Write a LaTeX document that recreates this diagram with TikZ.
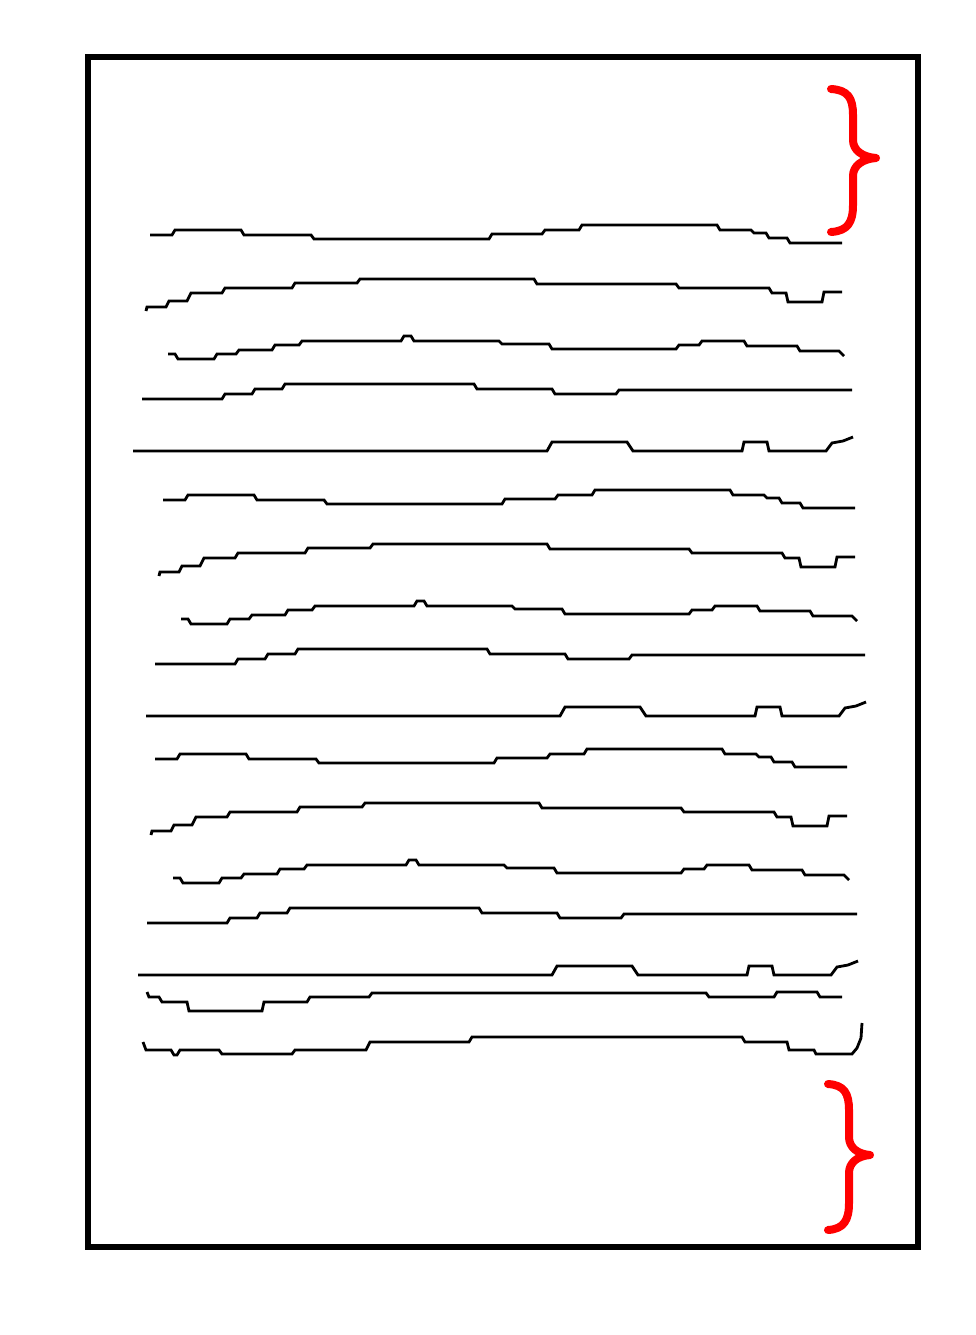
\documentclass[tikz,border=0pt]{standalone}
\begin{document}
\begin{tikzpicture}[x=1pt,y=-1pt,
  textline/.style={draw=black,line width=2.8pt,line join=miter},
  pageframe/.style={draw=black,line width=6pt},
  redbrace/.style={draw=red,line width=8pt,line cap=round,line join=round}]
\useasboundingbox (0,0) rectangle (975,1335);
\fill[white] (0,0) rectangle (975,1335);
\draw[pageframe] (88,57) rectangle (918,1247);
% base line patterns
\newcommand{\lineA}{(150,235)--(172,235)--(175,230)--(241,230)--(244,235)--(311,235)--(314,239)--(489,239)--(492,234)--(542,234)--(545,230)--(579,230)--(582,225)--(717,225)--(720,230)--(751,230)--(754,233)--(766,233)--(769,238)--(787,238)--(790,243)--(842,243)}
\newcommand{\lineB}{(146,311)--(147,307)--(166,307)--(169,301)--(187,301)--(191,293)--(222,293)--(225,288)--(292,288)--(295,283)--(357,283)--(360,279)--(534,279)--(537,284)--(676,284)--(679,288)--(769,288)--(772,293)--(786,293)--(788,302)--(822,302)--(824,292)--(842,292)}
\newcommand{\lineC}{(168,354)--(175,354)--(178,359)--(214,359)--(217,354)--(236,354)--(239,350)--(272,350)--(275,345)--(299,345)--(302,341)--(401,341)--(404,336)--(411,336)--(414,341)--(499,341)--(502,344)--(549,344)--(552,349)--(676,349)--(679,345)--(699,345)--(702,341)--(744,341)--(747,346)--(797,346)--(800,351)--(839,351)--(844,356)}
\newcommand{\lineD}{(142,399)--(222,399)--(225,394)--(252,394)--(255,389)--(282,389)--(285,384)--(474,384)--(477,389)--(552,389)--(555,394)--(616,394)--(619,390)--(852,390)}
\newcommand{\lineE}{(133,451)--(547,451)--(552,442)--(627,442)--(633,451)--(742,451)--(744,442)--(767,442)--(769,451)--(826,451)--(832,443)--(843,441)--(853,437)}
\foreach \sx/\sy in {0/0,13/265,5/524}{
  \begin{scope}[shift={(\sx,\sy)}]
    \draw[textline] \lineA;
    \draw[textline] \lineB;
    \draw[textline] \lineC;
    \draw[textline] \lineD;
    \draw[textline] \lineE;
  \end{scope}
}
\draw[textline] (147,992)--(149,997)--(159,997)--(162,1002)--(187,1002)--(189,1011)--(262,1011)--(264,1002)--(307,1002)--(310,997)--(369,997)--(372,993)--(706,993)--(709,997)--(774,997)--(777,992)--(817,992)--(820,997)--(842,997);
\draw[textline] (143,1042)--(146,1050)--(171,1050)--(174,1055)--(177,1055)--(180,1050)--(219,1050)--(222,1054)--(292,1054)--(295,1050)--(366,1050)--(370,1042)--(469,1042)--(472,1037)--(742,1037)--(745,1042)--(787,1042)--(789,1050)--(814,1050)--(816,1054)--(852,1054)--(857,1048)--(861,1038)--(862,1023);
% braces
\draw[redbrace] (831,89) .. controls (848,90) and (853,98) .. (853,115) -- (853,140) .. controls (853,150) and (862,157) .. (876,158) .. controls (862,159) and (853,166) .. (853,176) -- (853,205) .. controls (853,222) and (848,231) .. (831,232);
\draw[redbrace] (828,1084) .. controls (844,1085) and (849,1093) .. (849,1110) -- (849,1137) .. controls (849,1147) and (857,1154) .. (870,1155) .. controls (857,1156) and (849,1163) .. (849,1173) -- (849,1203) .. controls (849,1220) and (844,1229) .. (828,1230);
\end{tikzpicture}
\end{document}
